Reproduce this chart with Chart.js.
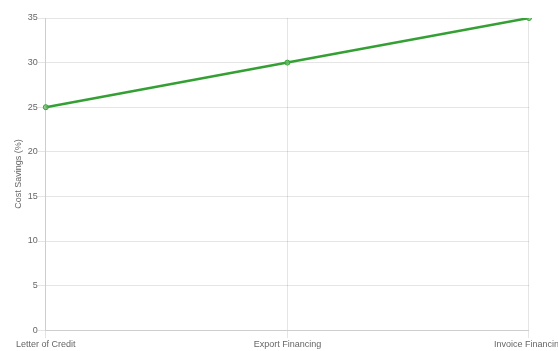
<!DOCTYPE html>
<html>
<head>
<meta charset="utf-8">
<script src="https://cdn.jsdelivr.net/npm/chart.js@4"></script>
<style>
  html, body { margin: 0; padding: 0; background: #fff; overflow: hidden; }
  #wrap { width: 565px; height: 351px; position: relative; }
</style>
</head>
<body>
<div id="wrap"><canvas id="savingsChart"></canvas></div>
<script>
// Chart data
const categories = ['Letter of Credit', 'Export Financing', 'Invoice Financing'];
const savings = [25, 30, 35];

Chart.defaults.font.family = '"Liberation Sans", Arial, Helvetica, sans-serif';
Chart.defaults.font.size = 9;
Chart.defaults.color = '#666';

const ctx = document.getElementById('savingsChart');
new Chart(ctx, {
  type: 'line',
  data: {
    labels: categories,
    datasets: [{
      label: 'Cost Savings (%)',
      data: savings,
      borderColor: 'rgba(52, 160, 52, 1)',
      backgroundColor: 'rgba(52, 160, 52, 0.5)',
      pointBackgroundColor: 'rgba(110, 190, 110, 0.7)',
      pointBorderColor: 'rgba(52, 160, 52, 1)',
      pointBorderWidth: 1,
      borderWidth: 2.5,
      pointRadius: 2.5,
      fill: false,
      tension: 0
    }]
  },
  options: {
    responsive: true,
    maintainAspectRatio: false,
    animation: false,
    layout: { padding: { top: 18, left: 9, bottom: 0 } },
    plugins: {
      legend: { display: false }
    },
    scales: {
      x: {
        ticks: { maxRotation: 0, autoSkip: false, padding: 1 }
      },
      y: {
        beginAtZero: true,
        max: 35,
        ticks: { stepSize: 5, padding: 0 },
        title: { display: true, text: 'Cost Savings (%)', padding: { top: 4, bottom: 4 } }
      }
    }
  }
});
</script>
</body>
</html>
